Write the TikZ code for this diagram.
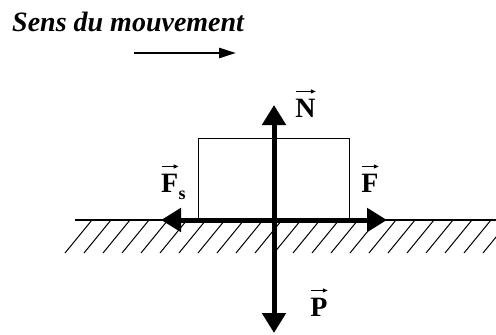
\documentclass[tikz,border=0pt]{standalone}
\usepackage{fontspec}
\setmainfont{Liberation Serif}
\usetikzlibrary{arrows.meta}
\tikzset{
  force/.style={line width=5pt,-{Triangle[length=20pt,width=23pt]}},
  forcename/.style={anchor=base,inner sep=0pt,font=\fontsize{28}{30}\selectfont\bfseries},
  vecarrow/.style={line width=1.1pt,-{Triangle[length=5pt,width=4pt]},shorten <=1pt},
  hatch/.style={line width=1pt}
}

\begin{document}
\begin{tikzpicture}[x=1pt,y=-1pt]
  \useasboundingbox (0,0) rectangle (496,335);
  % sens du mouvement
  \node[anchor=base west,inner sep=0pt,font=\fontsize{28}{30}\selectfont\bfseries\itshape] (titre) at (12,31) {Sens du mouvement};
  \coordinate (mvtA) at (134,53);
  \coordinate (mvtB) at (236,53);
  \draw[line width=2.6pt,-{Triangle[length=17pt,width=10pt]}] (mvtA) -- (mvtB);
  % sol
  \coordinate (solA) at (75,220);
  \coordinate (solB) at (496,220);
  \draw[line width=1.3pt] (solA) -- (solB);
  \begin{scope}
    \clip (0,220) rectangle (496,260);
    \foreach \i in {0,...,22}
      \draw[hatch] (92+19*\i,220) -- (65+19*\i,253);
  \end{scope}
  % solide
  \node[draw,line width=1pt,minimum width=151pt,minimum height=81pt,inner sep=0pt,anchor=south] (bloc) at (273.5,220) {};
  % forces
  \coordinate (G) at (274,220);
  \coordinate (Nb) at (274,105);
  \coordinate (Pb) at (274,333);
  \coordinate (Fb) at (387,220);
  \coordinate (Fsb) at (161,220);
  \draw[force] (G) -- (Nb);
  \draw[force] (G) -- (Pb);
  \draw[force] (G) -- (Fb);
  \draw[force] (G) -- (Fsb);
  \node[forcename] (N) at (305.5,117) {N};
  \node[forcename] (P) at (319,316) {P};
  \node[forcename] (F) at (370,192) {F};
  \node[forcename,anchor=base west] (Fs) at (161,192) {F};
  \node[forcename,anchor=base west,font=\fontsize{18}{18}\selectfont\bfseries] (s) at ([yshift=-7pt]Fs.base east) {s};
  % fleches des vecteurs
  \foreach \v in {N,P,F,Fs}
    \draw[vecarrow] ([yshift=7pt]\v.north west) -- ([yshift=7pt]\v.north east);
\end{tikzpicture}
\end{document}
